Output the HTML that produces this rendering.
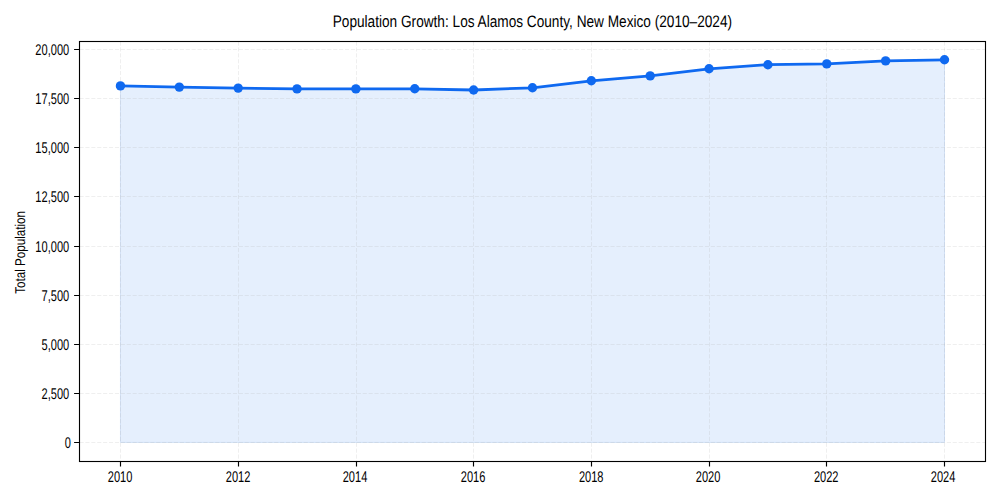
<!DOCTYPE html><html><head><meta charset="utf-8"><style>html,body{margin:0;padding:0;background:#fff;width:1000px;height:500px;overflow:hidden}svg{display:block}text{font-family:"Liberation Sans",sans-serif;fill:#000;text-rendering:geometricPrecision}</style></head><body>
<svg width="1000" height="500" viewBox="0 0 1000 500">
<rect width="1000" height="500" fill="#fff"/>
<polygon points="120.45,85.90 179.31,87.10 238.17,88.10 297.03,88.90 355.89,88.90 414.75,88.80 473.61,90.00 532.47,87.80 591.33,80.80 650.19,75.90 709.05,68.80 767.91,64.70 826.77,63.90 885.63,60.90 944.49,59.80 944.49,442.40 120.45,442.40" fill="#e5effd" stroke="#d2e1f7" stroke-width="1"/>
<path d="M120.5,41.5V461.5M238.5,41.5V461.5M356.5,41.5V461.5M473.5,41.5V461.5M591.5,41.5V461.5M709.5,41.5V461.5M826.5,41.5V461.5M944.5,41.5V461.5M79.5,442.5H985.5M79.5,393.5H985.5M79.5,344.5H985.5M79.5,295.5H985.5M79.5,246.5H985.5M79.5,196.5H985.5M79.5,147.5H985.5M79.5,98.5H985.5M79.5,49.5H985.5" stroke="#b0b0b0" stroke-opacity="0.3" stroke-width="0.7" stroke-dasharray="4.1 1.8" fill="none"/>
<polyline points="120.45,85.90 179.31,87.10 238.17,88.10 297.03,88.90 355.89,88.90 414.75,88.80 473.61,90.00 532.47,87.80 591.33,80.80 650.19,75.90 709.05,68.80 767.91,64.70 826.77,63.90 885.63,60.90 944.49,59.80" fill="none" stroke="#0f69f0" stroke-width="2.78" stroke-linejoin="round"/>
<circle cx="120.45" cy="85.90" r="4.7" fill="#0f69f0"/>
<circle cx="179.31" cy="87.10" r="4.7" fill="#0f69f0"/>
<circle cx="238.17" cy="88.10" r="4.7" fill="#0f69f0"/>
<circle cx="297.03" cy="88.90" r="4.7" fill="#0f69f0"/>
<circle cx="355.89" cy="88.90" r="4.7" fill="#0f69f0"/>
<circle cx="414.75" cy="88.80" r="4.7" fill="#0f69f0"/>
<circle cx="473.61" cy="90.00" r="4.7" fill="#0f69f0"/>
<circle cx="532.47" cy="87.80" r="4.7" fill="#0f69f0"/>
<circle cx="591.33" cy="80.80" r="4.7" fill="#0f69f0"/>
<circle cx="650.19" cy="75.90" r="4.7" fill="#0f69f0"/>
<circle cx="709.05" cy="68.80" r="4.7" fill="#0f69f0"/>
<circle cx="767.91" cy="64.70" r="4.7" fill="#0f69f0"/>
<circle cx="826.77" cy="63.90" r="4.7" fill="#0f69f0"/>
<circle cx="885.63" cy="60.90" r="4.7" fill="#0f69f0"/>
<circle cx="944.49" cy="59.80" r="4.7" fill="#0f69f0"/>
<rect x="79.5" y="41.5" width="906.0" height="420.0" fill="none" stroke="#000" stroke-width="1.11"/>
<path d="M120.5,461.5v5.1M238.5,461.5v5.1M356.5,461.5v5.1M473.5,461.5v5.1M591.5,461.5v5.1M709.5,461.5v5.1M826.5,461.5v5.1M944.5,461.5v5.1M79.5,442.5h-5.4M79.5,393.5h-5.4M79.5,344.5h-5.4M79.5,295.5h-5.4M79.5,246.5h-5.4M79.5,196.5h-5.4M79.5,147.5h-5.4M79.5,98.5h-5.4M79.5,49.5h-5.4" stroke="#000" stroke-width="1.15" fill="none"/>
<text transform="translate(120.10,481.9) scale(0.714,1)" font-size="15.5" text-anchor="middle">2010</text>
<text transform="translate(238.10,481.9) scale(0.714,1)" font-size="15.5" text-anchor="middle">2012</text>
<text transform="translate(355.00,481.9) scale(0.714,1)" font-size="15.5" text-anchor="middle">2014</text>
<text transform="translate(473.10,481.9) scale(0.714,1)" font-size="15.5" text-anchor="middle">2016</text>
<text transform="translate(591.20,481.9) scale(0.714,1)" font-size="15.5" text-anchor="middle">2018</text>
<text transform="translate(708.10,481.9) scale(0.714,1)" font-size="15.5" text-anchor="middle">2020</text>
<text transform="translate(826.20,481.9) scale(0.714,1)" font-size="15.5" text-anchor="middle">2022</text>
<text transform="translate(943.10,481.9) scale(0.714,1)" font-size="15.5" text-anchor="middle">2024</text>
<text transform="translate(71.0,447.95) scale(0.714,1)" font-size="15.5" text-anchor="end">0</text>
<text transform="translate(69.2,398.95) scale(0.714,1)" font-size="15.5" text-anchor="end">2,500</text>
<text transform="translate(69.2,349.95) scale(0.714,1)" font-size="15.5" text-anchor="end">5,000</text>
<text transform="translate(69.2,300.95) scale(0.714,1)" font-size="15.5" text-anchor="end">7,500</text>
<text transform="translate(69.2,251.95) scale(0.714,1)" font-size="15.5" text-anchor="end">10,000</text>
<text transform="translate(69.2,201.95) scale(0.714,1)" font-size="15.5" text-anchor="end">12,500</text>
<text transform="translate(69.2,152.95) scale(0.714,1)" font-size="15.5" text-anchor="end">15,000</text>
<text transform="translate(69.2,103.95) scale(0.714,1)" font-size="15.5" text-anchor="end">17,500</text>
<text transform="translate(69.2,54.95) scale(0.714,1)" font-size="15.5" text-anchor="end">20,000</text>
<text transform="translate(24.6,252.4) rotate(-90) scale(0.82,1)" font-size="14.2" text-anchor="middle">Total Population</text>
<text transform="translate(532.4,26.8) scale(0.819,1)" font-size="16.67" text-anchor="middle">Population Growth: Los Alamos County, New Mexico (2010–2024)</text>
</svg></body></html>
